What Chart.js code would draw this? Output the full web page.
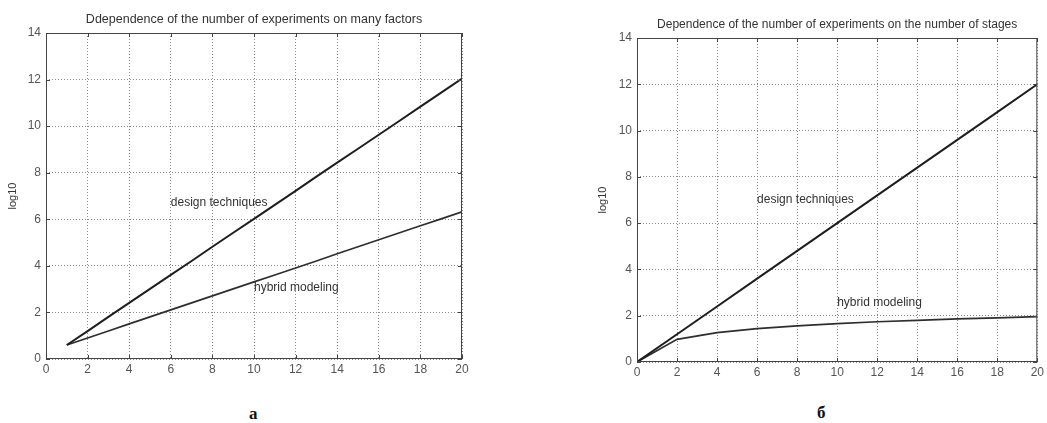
<!DOCTYPE html>
<html>
<head>
<meta charset="utf-8">
<script src="https://cdn.jsdelivr.net/npm/chart.js@4"></script>
<style>
  body { margin: 0; background: #fff; width: 1047px; height: 423px; position: relative; overflow: hidden; }
  canvas { position: absolute; top: 0; }
  .cap { position: absolute; font-family: "Liberation Serif", "DejaVu Serif", serif; font-weight: bold; font-size: 17px; color: #111; }
</style>
</head>
<body>
<canvas id="chartA" width="490" height="400" style="left:0"></canvas>
<canvas id="chartB" width="457" height="400" style="left:590px"></canvas>
<div class="cap" style="left:249px; top:404px">a</div>
<div class="cap" style="left:817px; top:403px">б</div>
<script>
// left chart: many factors
const factorsX = [1, 2, 3, 4, 5, 6, 7, 8, 9, 10, 11, 12, 13, 14, 15, 16, 17, 18, 19, 20];
const factorsDesign = [0.60, 1.20, 1.81, 2.41, 3.01, 3.61, 4.21, 4.82, 5.42, 6.02, 6.62, 7.22, 7.83, 8.43, 9.03, 9.63, 10.23, 10.84, 11.44, 12.04];
const factorsHybrid = [0.60, 0.90, 1.20, 1.51, 1.81, 2.11, 2.41, 2.71, 3.01, 3.31, 3.61, 3.91, 4.21, 4.52, 4.82, 5.12, 5.42, 5.72, 6.02, 6.32];

// right chart: number of stages
const stagesX = [0, 2, 4, 6, 8, 10, 12, 14, 16, 18, 20];
const stagesDesign = [0, 1.2, 2.4, 3.6, 4.8, 6.0, 7.2, 8.4, 9.6, 10.8, 12.0];
const stagesHybrid = [0, 0.98, 1.27, 1.44, 1.56, 1.66, 1.74, 1.80, 1.86, 1.91, 1.96];

const xTicks = [0, 2, 4, 6, 8, 10, 12, 14, 16, 18, 20];
const yTicks = [0, 2, 4, 6, 8, 10, 12, 14];

const titleA = 'Ddependence of the number of experiments on many factors';
const titleB = 'Dependence of the number of experiments on the number of stages';
const notesA = [['design techniques', 6, 6.7], ['hybrid modeling', 10, 3.05]];
const notesB = [['design techniques', 6, 7.0], ['hybrid modeling', 10, 2.55]];

const FONT = '"Liberation Sans", Arial, sans-serif';

// box, inner tick marks, title and text labels, MATLAB style
const matlabBox = {
    id: 'matlabBox',
    afterDraw(chart, args, opts) {
        const c = chart.ctx, a = chart.chartArea;
        const xs = chart.scales.x, ys = chart.scales.y;
        c.save();
        c.strokeStyle = '#444';
        c.lineWidth = 1;
        c.strokeRect(a.left + 0.5, a.top + 0.5, a.right - a.left - 1, a.bottom - a.top - 1);
        c.beginPath();
        xTicks.forEach(v => {
            const px = Math.round(xs.getPixelForValue(v)) + 0.5;
            c.moveTo(px, a.bottom); c.lineTo(px, a.bottom - 4);
            c.moveTo(px, a.top); c.lineTo(px, a.top + 4);
        });
        yTicks.forEach(v => {
            const py = Math.round(ys.getPixelForValue(v)) + 0.5;
            c.moveTo(a.left, py); c.lineTo(a.left + 4, py);
            c.moveTo(a.right, py); c.lineTo(a.right - 4, py);
        });
        c.stroke();
        c.fillStyle = '#333';
        c.font = opts.titleSize + 'px ' + FONT;
        c.textAlign = 'center';
        c.textBaseline = 'alphabetic';
        c.fillText(opts.title, (a.left + a.right) / 2, a.top - opts.titleGap);
        c.font = '12px ' + FONT;
        c.textAlign = 'left';
        c.textBaseline = 'middle';
        opts.notes.forEach(n => {
            c.fillText(n[0], xs.getPixelForValue(n[1]), ys.getPixelForValue(n[2]));
        });
        c.restore();
    }
};

function makeChart(id, xs, design, hybrid, cfg) {
    const ctx = document.getElementById(id);
    const gridStyle = { color: '#8a8a8a', drawTicks: false, lineWidth: 1 };
    return new Chart(ctx, {
        type: 'line',
        data: {
            datasets: [{
                label: 'design techniques',
                data: xs.map((x, i) => ({ x: x, y: design[i] })),
                borderColor: '#1e1e1e',
                borderWidth: 2,
                pointRadius: 0
            }, {
                label: 'hybrid modeling',
                data: xs.map((x, i) => ({ x: x, y: hybrid[i] })),
                borderColor: '#2e2e2e',
                borderWidth: 1.7,
                pointRadius: 0
            }]
        },
        plugins: [matlabBox],
        options: {
            responsive: false,
            animation: false,
            layout: { padding: { left: 0, top: cfg.top, right: cfg.right, bottom: 0 } },
            plugins: {
                legend: { display: false },
                tooltip: { enabled: false },
                matlabBox: { title: cfg.title, notes: cfg.notes, titleGap: cfg.titleGap, titleSize: cfg.titleSize }
            },
            scales: {
                x: {
                    type: 'linear', min: 0, max: 20,
                    afterBuildTicks: s => { s.ticks = xTicks.map(v => ({ value: v })); },
                    afterFit: s => { s.height = cfg.xHeight; },
                    ticks: { color: '#555', font: { family: FONT, size: 12 }, padding: 3 },
                    grid: gridStyle,
                    border: { display: false, dash: [1, 2] }
                },
                y: {
                    min: 0, max: 14,
                    afterBuildTicks: s => { s.ticks = yTicks.map(v => ({ value: v })); },
                    afterFit: s => { s.width = cfg.yWidth; },
                    ticks: { color: '#555', font: { family: FONT, size: 12 }, padding: 5 },
                    grid: gridStyle,
                    border: { display: false, dash: [1, 2] },
                    title: { display: true, text: 'log10', color: '#333', font: { family: FONT, size: 11 }, padding: { top: 6, bottom: 0 } }
                }
            }
        }
    });
}

document.addEventListener('DOMContentLoaded', function() {
    makeChart('chartA', factorsX, factorsDesign, factorsHybrid,
        { top: 33, right: 28, xHeight: 41, yWidth: 46, title: titleA, notes: notesA, titleGap: 10, titleSize: 12.5 });
    makeChart('chartB', stagesX, stagesDesign, stagesHybrid,
        { top: 38, right: 3, xHeight: 38, yWidth: 47, title: titleB, notes: notesB, titleGap: 10, titleSize: 12 });
});
</script>
</body>
</html>
